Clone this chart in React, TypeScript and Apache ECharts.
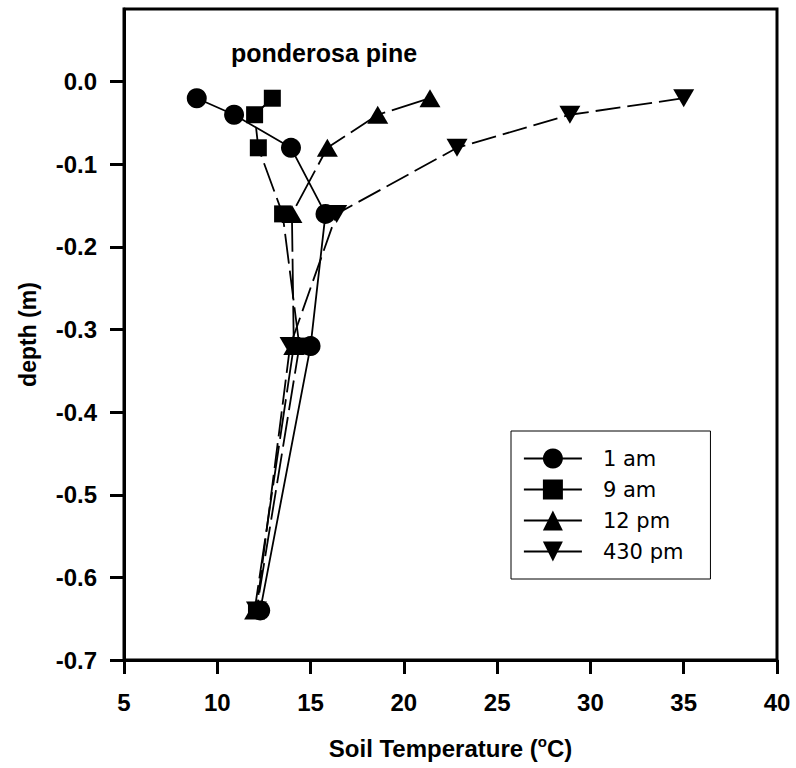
import React, { useEffect, useRef } from 'react';
import * as echarts from 'echarts';

const depths = [-0.02, -0.04, -0.08, -0.16, -0.32, -0.64];
const temp1am = [8.9, 10.9, 13.95, 15.8, 15.0, 12.3];
const temp9am = [12.95, 12.0, 12.2, 13.5, 14.4, 12.1];
const temp12pm = [21.4, 18.6, 15.9, 14.0, 14.1, 12.0];
const temp430pm = [35.0, 28.9, 22.85, 16.4, 13.9, 12.1];
const seriesNames = ['1 am', '9 am', '12 pm', '430 pm'];
const yTicks = [-0.7, -0.6, -0.5, -0.4, -0.3, -0.2, -0.1, 0.0];
const FONT = 'Liberation Sans, Arial, sans-serif';
const LEGEND_FONT = 'DejaVu Sans, sans-serif';

export default function App() {
  const ref = useRef<HTMLDivElement>(null);
  useEffect(() => {
    if (!ref.current) return;
    const chart = echarts.init(ref.current, null, { renderer: 'svg' });
    const mk = (name: string, temps: number[], symbol: string, size: any, dash: any, rotate = 0) => ({
      name,
      type: 'line',
      data: temps.map((t, i) => [t, depths[i]]),
      symbol,
      symbolSize: size,
      symbolRotate: rotate,
      itemStyle: { color: '#000' },
      lineStyle: { color: '#000', width: 1.8, type: dash },
      z: 3,
    });
    chart.setOption({
      animation: false,
      grid: { left: 124, right: 19, top: 9, bottom: 108, show: true, borderColor: '#000', borderWidth: 3, backgroundColor: 'transparent' },
      title: {
        text: 'ponderosa pine', left: 231, top: 40, padding: 0,
        textStyle: { fontFamily: FONT, fontWeight: 'bold', fontSize: 25, color: '#000' },
      },
      legend: {
        orient: 'vertical', left: 511, top: 431,
        itemWidth: 58, itemHeight: 25, itemGap: 10,
        padding: [17, 27, 17, 12],
        borderColor: '#000', borderWidth: 1,
        textStyle: { fontFamily: LEGEND_FONT, fontSize: 21, color: '#000', padding: [0, 0, 0, 16] },
        data: seriesNames.map((n) => ({ name: n, lineStyle: { type: 'solid', width: 1.8, color: '#000' } })),
      },
      xAxis: {
        type: 'value', min: 5, max: 40, interval: 5,
        axisLine: { onZero: false, lineStyle: { color: '#000', width: 3 } },
        axisTick: { length: 14, lineStyle: { color: '#000', width: 3 } },
        axisLabel: { fontFamily: FONT, fontWeight: 'bold', fontSize: 24, color: '#000', margin: 30 },
        splitLine: { show: false },
        name: 'Soil Temperature ({sup|o}C)', nameLocation: 'middle', nameGap: 74,
        nameTextStyle: {
          fontFamily: FONT, fontWeight: 'bold', fontSize: 24, color: '#000', lineHeight: 28,
          rich: { sup: { fontFamily: FONT, fontWeight: 'bold', fontSize: 15, color: '#000', verticalAlign: 'top', lineHeight: 16 } },
        },
      },
      yAxis: {
        type: 'value', min: -0.7, max: 0.088,
        axisLine: { onZero: false, lineStyle: { color: '#000', width: 3 } },
        axisTick: { length: 14, customValues: yTicks, lineStyle: { color: '#000', width: 3 } },
        axisLabel: {
          customValues: yTicks, fontFamily: FONT, fontWeight: 'bold', fontSize: 24, color: '#000', margin: 27,
          formatter: (v: number) => v.toFixed(1),
        },
        splitLine: { show: false },
        name: 'depth (m)', nameLocation: 'middle', nameGap: 85,
        nameTextStyle: { fontFamily: FONT, fontWeight: 'bold', fontSize: 23, color: '#000' },
      },
      series: [
        mk(seriesNames[0], temp1am, 'circle', 20, 'solid'),
        mk(seriesNames[1], temp9am, 'rect', 17, [30, 7]),
        mk(seriesNames[2], temp12pm, 'triangle', [21, 18], [40, 7]),
        mk(seriesNames[3], temp430pm, 'triangle', [21, 18], [25, 7], 180),
      ],
    });
    return () => chart.dispose();
  }, []);
  return <div ref={ref} style={{ position: 'absolute', left: 0, top: 0, width: 796, height: 768 }} />;
}
